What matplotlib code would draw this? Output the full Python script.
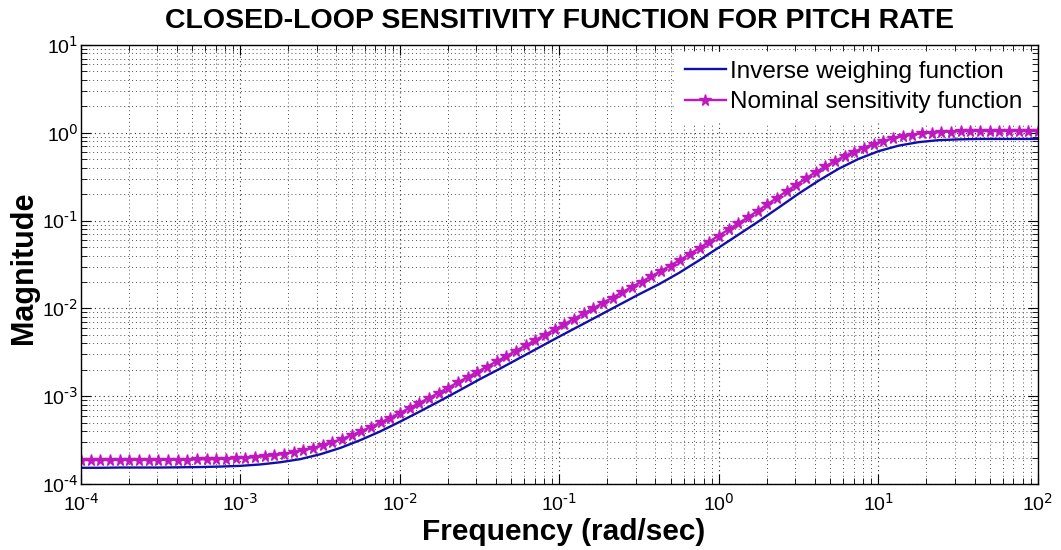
import matplotlib
matplotlib.use("Agg")
import matplotlib.pyplot as plt
import numpy as np
from matplotlib.ticker import LogLocator, NullFormatter, FuncFormatter

plt.rcParams['font.family'] = ['Liberation Sans', 'DejaVu Sans']
plt.rcParams['mathtext.default'] = 'regular'

# frequency grid of the nominal curve (100 log-spaced samples, 1e-4 .. 1e2 rad/s)
freq_start, freq_stop, n_freq = -4, 2, 100
# frequency grid read for the weighting curve (every 1/8 decade)
n_weight = 49

# nominal sensitivity function |S|
nominal_mag = [
    1.87e-4, 1.87e-4, 1.87e-4, 1.88e-4, 1.88e-4, 1.88e-4, 1.88e-4, 1.88e-4, 1.88e-4, 1.89e-4,
    1.89e-4, 1.90e-4, 1.91e-4, 1.91e-4, 1.92e-4, 1.94e-4, 1.96e-4, 1.99e-4, 2.02e-4, 2.07e-4,
    2.13e-4, 2.20e-4, 2.30e-4, 2.42e-4, 2.57e-4, 2.75e-4, 2.99e-4, 3.26e-4, 3.60e-4, 4.00e-4,
    4.47e-4, 5.02e-4, 5.68e-4, 6.44e-4, 7.35e-4, 8.36e-4, 9.55e-4, 1.09e-3, 1.25e-3, 1.44e-3,
    1.65e-3, 1.89e-3, 2.17e-3, 2.49e-3, 2.86e-3, 3.29e-3, 3.78e-3, 4.35e-3, 5.00e-3, 5.75e-3,
    6.61e-3, 7.60e-3, 8.75e-3, 1.00e-2, 1.16e-2, 1.33e-2, 1.53e-2, 1.76e-2, 2.02e-2, 2.32e-2,
    2.67e-2, 3.08e-2, 3.58e-2, 4.18e-2, 4.90e-2, 5.75e-2, 6.76e-2, 7.94e-2, 9.31e-2, 0.109,
    0.129, 0.153, 0.182, 0.216, 0.256, 0.303, 0.356, 0.414, 0.476, 0.543,
    0.611, 0.679, 0.745, 0.807, 0.863, 0.912, 0.953, 0.984, 1.007, 1.023,
    1.033, 1.040, 1.045, 1.047, 1.047, 1.047, 1.047, 1.047, 1.047, 1.047,
]

# inverse weighting function |1/W|
inv_weight_mag = [
    1.53e-4, 1.53e-4, 1.54e-4, 1.54e-4, 1.54e-4, 1.55e-4, 1.56e-4, 1.58e-4, 1.61e-4, 1.67e-4,
    1.77e-4, 1.92e-4, 2.18e-4, 2.57e-4, 3.15e-4, 3.96e-4, 5.12e-4, 6.70e-4, 8.83e-4, 1.17e-3,
    1.56e-3, 2.05e-3, 2.72e-3, 3.61e-3, 4.79e-3, 6.31e-3, 8.32e-3, 1.10e-2, 1.45e-2, 1.89e-2,
    2.54e-2, 3.52e-2, 4.95e-2, 6.97e-2, 9.84e-2, 0.141, 0.203, 0.285, 0.389, 0.504,
    0.617, 0.713, 0.782, 0.824, 0.841, 0.851, 0.851, 0.851, 0.851,
]

freq = np.logspace(freq_start, freq_stop, n_freq)
freq_w = np.logspace(freq_start, freq_stop, n_weight)


def decade_label(v, pos):
    n = int(round(np.log10(v)))
    return r'$10^{\text{%d}}$' % n


fig = plt.figure(figsize=(10.61, 5.5), dpi=100)
ax = fig.add_axes([0.0763, 0.12, 0.902, 0.7982])

ax.loglog(freq_w, inv_weight_mag, color='#1010a8', lw=1.7,
          label='Inverse weighing function')
ax.loglog(freq, nominal_mag, color='#c018c0', lw=1.7, marker='*', ms=8.5,
          label='Nominal sensitivity function')

ax.set_xlim(1e-4, 1e2)
ax.set_ylim(1e-4, 1e1)
ax.xaxis.set_major_locator(LogLocator(base=10, numticks=10))
ax.yaxis.set_major_locator(LogLocator(base=10, numticks=10))
ax.xaxis.set_minor_locator(LogLocator(base=10, subs=np.arange(2, 10), numticks=20))
ax.yaxis.set_minor_locator(LogLocator(base=10, subs=np.arange(2, 10), numticks=20))
ax.xaxis.set_major_formatter(FuncFormatter(decade_label))
ax.yaxis.set_major_formatter(FuncFormatter(decade_label))
ax.xaxis.set_minor_formatter(NullFormatter())
ax.yaxis.set_minor_formatter(NullFormatter())

ax.grid(True, which='major', ls=(0, (1, 3)), color='#303030', lw=0.8)
ax.grid(True, which='minor', ls=(0, (1, 3)), color='#505050', lw=0.7)
ax.tick_params(which='both', direction='in', top=True, right=True, labelsize=14)
ax.tick_params(which='major', length=7)
ax.tick_params(axis='y', which='major', pad=2)
ax.tick_params(axis='x', which='major', pad=7)
ax.tick_params(which='minor', length=4)
for sp in ax.spines.values():
    sp.set_linewidth(1.0)

ax.set_title('CLOSED-LOOP SENSITIVITY FUNCTION FOR PITCH RATE',
             fontsize=20.5, fontweight='bold', pad=12)
ax.set_xlabel('Frequency (rad/sec)', fontsize=21.5, fontweight='bold')
ax.set_ylabel('Magnitude', fontsize=22, fontweight='bold')
ax.xaxis.label.set_va('center')
ax.yaxis.label.set_va('center')
ax.xaxis.set_label_coords(0.504, -0.11)
ax.yaxis.set_label_coords(-0.06, 0.492)

leg = ax.legend(loc='upper right', fontsize=17.5, frameon=True, fancybox=False,
                edgecolor='white', framealpha=1, handlelength=1.7,
                handletextpad=0.15, borderaxespad=0.3, borderpad=0.35,
                labelspacing=0.35)

fig.savefig('out.png', dpi=100)
